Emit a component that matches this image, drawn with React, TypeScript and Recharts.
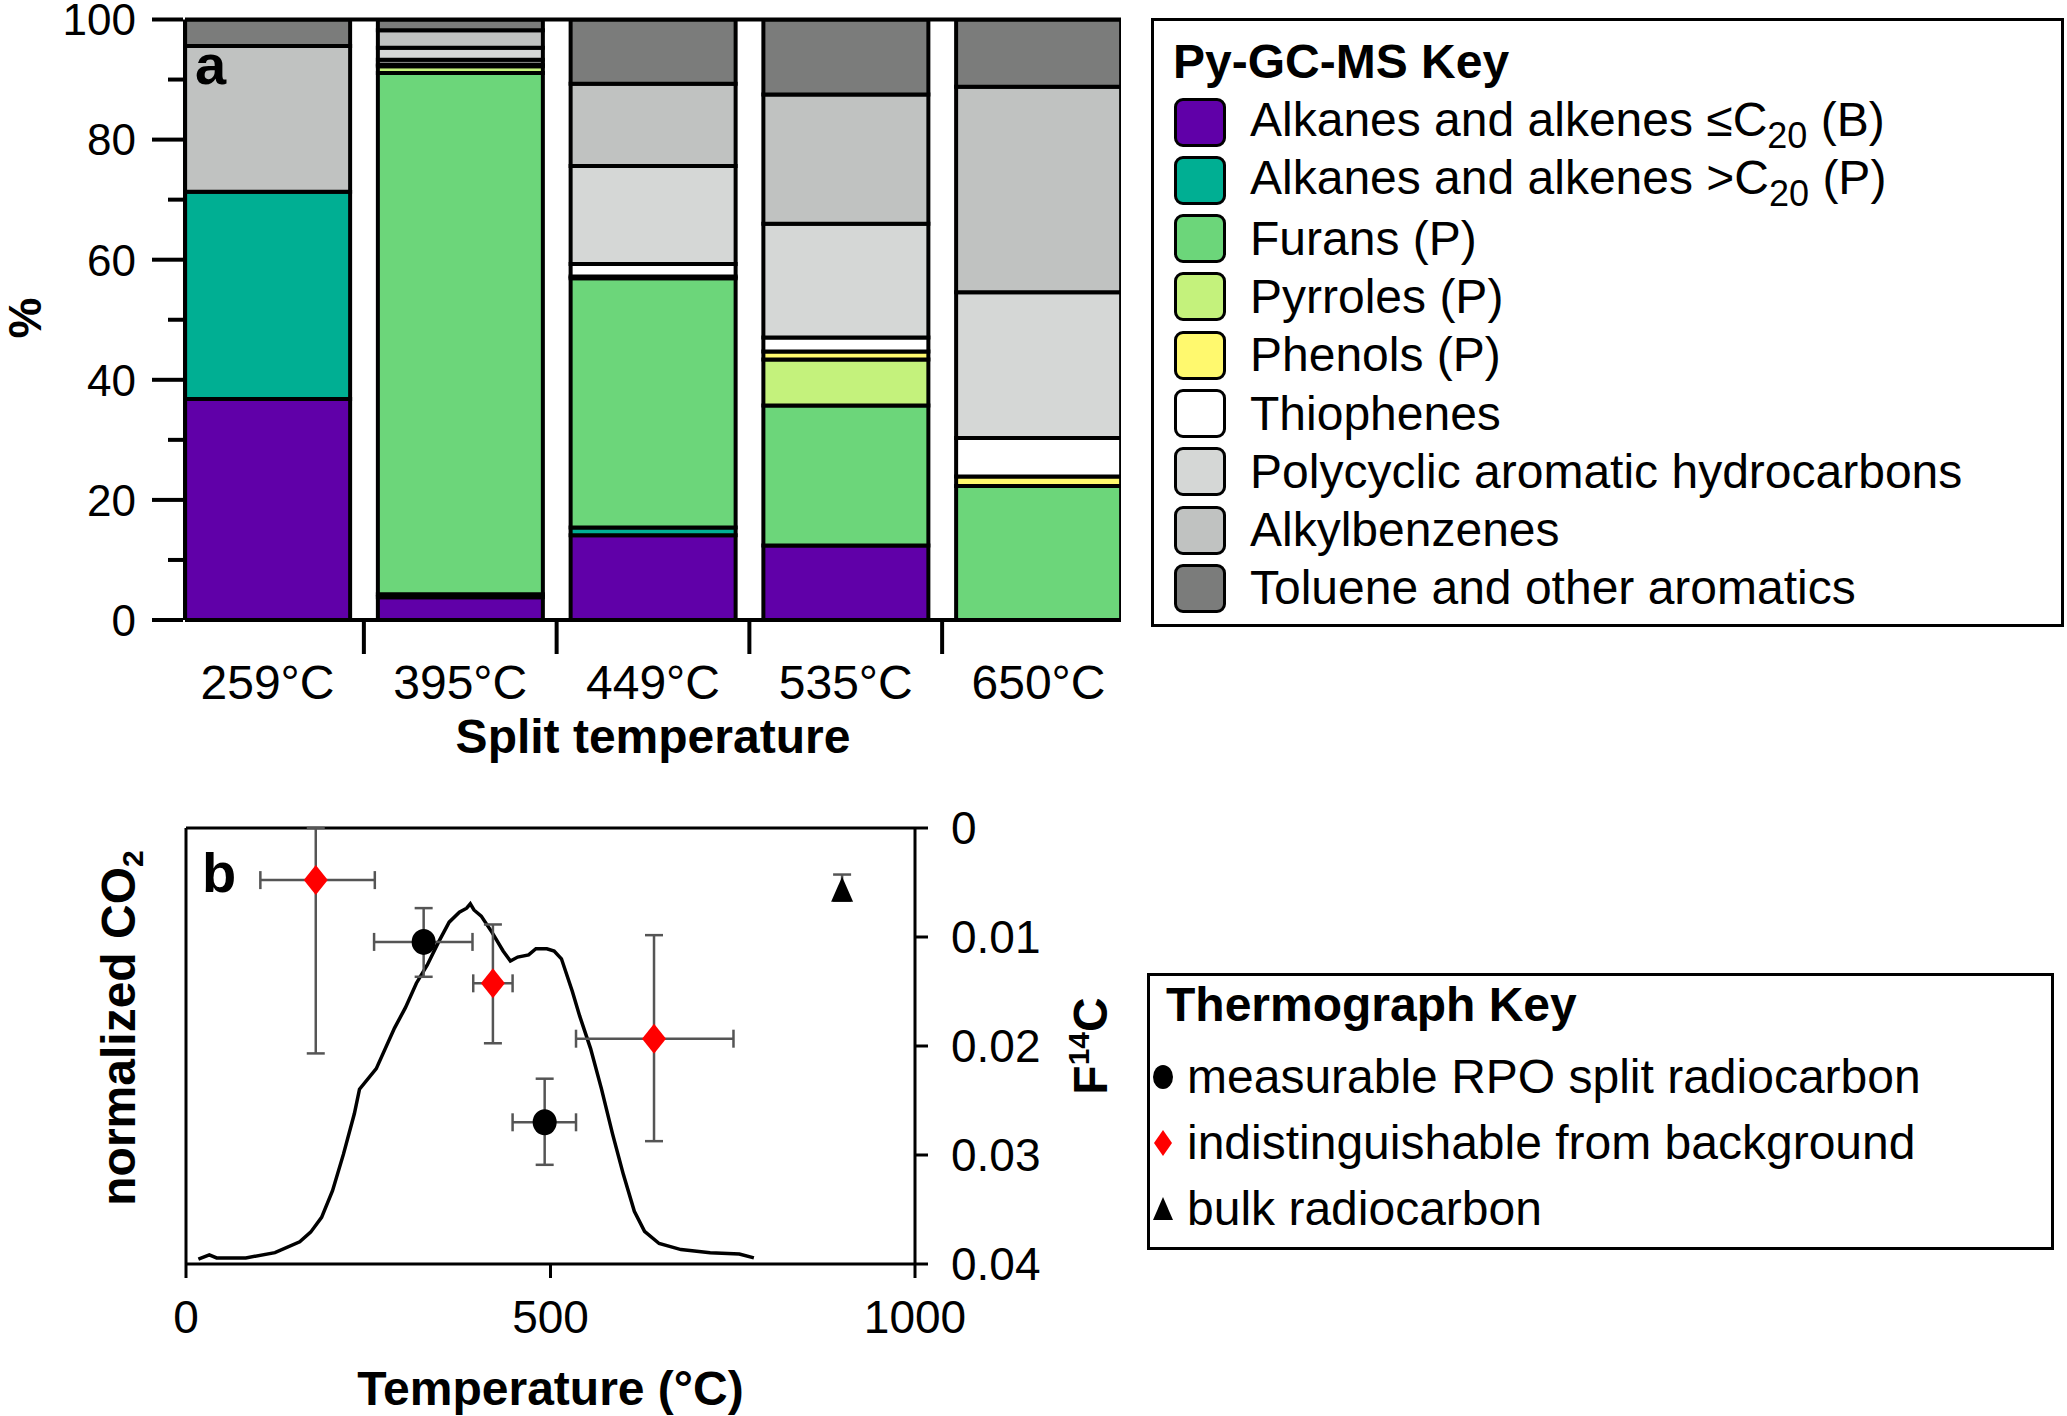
import React from "react";
import {
  BarChart, Bar, XAxis, YAxis, ReferenceLine, ComposedChart, Line, Scatter, ErrorBar,
} from "recharts";

const FONT = '"Liberation Sans", Arial, Helvetica, sans-serif';

// ---- panel a: Py-GC-MS composition (%), stacked bottom -> top
const splitTemps = ["259°C", "395°C", "449°C", "535°C", "650°C"];
const alkanesLow = [36.8, 3.8, 14.1, 12.4, 0];
const alkanesHigh = [34.5, 0.5, 1.3, 0, 0];
const furans = [0, 86.8, 41.5, 23.3, 22.3];
const pyrroles = [0, 1.1, 0, 7.7, 0];
const phenols = [0, 0.3, 0.3, 1.3, 1.6];
const thiophenes = [0, 0.8, 2.1, 2.35, 6.4];
const pahs = [0, 2.0, 16.3, 18.95, 24.3];
const alkylbenzenes = [24.3, 2.9, 13.7, 21.5, 34.2];
const toluene = [4.4, 1.8, 10.7, 12.5, 11.2];

const pySeries = [
  { key: "alkLow", name: "Alkanes and alkenes ≤C", sub: "20", tail: " (B)", color: "#6000A8", values: alkanesLow },
  { key: "alkHigh", name: "Alkanes and alkenes >C", sub: "20", tail: " (P)", color: "#00AF93", values: alkanesHigh },
  { key: "furans", name: "Furans (P)", color: "#6CD67A", values: furans },
  { key: "pyrroles", name: "Pyrroles (P)", color: "#C4F27C", values: pyrroles },
  { key: "phenols", name: "Phenols (P)", color: "#FFF96E", values: phenols },
  { key: "thiophenes", name: "Thiophenes", color: "#FFFFFF", values: thiophenes },
  { key: "pah", name: "Polycyclic aromatic hydrocarbons", color: "#D5D7D6", values: pahs },
  { key: "alkyl", name: "Alkylbenzenes", color: "#C0C2C1", values: alkylbenzenes },
  { key: "toluene", name: "Toluene and other aromatics", color: "#7B7C7B", values: toluene },
];

const pyRows = splitTemps.map((label, i) => {
  const row: Record<string, number | string> = { idx: i, label };
  pySeries.forEach((s) => { row[s.key] = s.values[i]; });
  return row;
});

const pctTicks = [0, 10, 20, 30, 40, 50, 60, 70, 80, 90, 100];
const catTicks = [0, 0.5, 1, 1.5, 2, 2.5, 3, 3.5, 4];

// ---- panel b: thermograph + radiocarbon
const thermoTemp = [17, 32, 42, 82, 122, 156, 171, 186, 201, 216, 231, 238, 261, 286, 301, 316, 331, 346, 361, 375, 385, 390, 395, 405, 420, 435, 445, 455, 470, 480, 495, 505, 515, 530, 540, 555, 570, 585, 600, 615, 629, 649, 679, 719, 759, 779];
const thermoCO2 = [0.011, 0.021, 0.014, 0.014, 0.026, 0.051, 0.073, 0.107, 0.168, 0.252, 0.345, 0.401, 0.448, 0.541, 0.588, 0.644, 0.686, 0.737, 0.784, 0.807, 0.816, 0.826, 0.812, 0.798, 0.76, 0.718, 0.695, 0.704, 0.709, 0.723, 0.723, 0.718, 0.7, 0.625, 0.569, 0.494, 0.401, 0.299, 0.205, 0.121, 0.075, 0.047, 0.033, 0.026, 0.023, 0.014];
const thermo = thermoTemp.map((t, i) => ({ t, co2: thermoCO2[i] }));

const measurableTemp = [326, 492];
const measurableF = [0.01045, 0.027];
const measurableTempErr = [[68, 67], [44, 43]];
const measurableFErr = [[0.0031, 0.0032], [0.004, 0.0039]];

const backgroundTemp = [178, 421, 642];
const backgroundF = [0.00478, 0.01425, 0.01933];
const backgroundTempErr = [[76, 81], [27, 27], [107, 109]];
const backgroundFErr = [[0.00478, 0.0159], [0.0054, 0.0055], [0.0095, 0.0094]];

const bulkTemp = [900];
const bulkF = [0.00567];
const bulkFErr = [[0.0014, 0.001]];

const measurable = measurableTemp.map((t, i) => ({ t, f: measurableF[i], tErr: measurableTempErr[i], fErr: measurableFErr[i] }));
const background = backgroundTemp.map((t, i) => ({ t, f: backgroundF[i], tErr: backgroundTempErr[i], fErr: backgroundFErr[i] }));
const bulk = bulkTemp.map((t, i) => ({ t, f: bulkF[i], fErr: bulkFErr[i] }));

const YTick = (props: any) => {
  const { x, y, payload } = props;
  const v = payload.value;
  const major = v % 20 === 0;
  return (
    <g>
      <line x1={x - (major ? 31 : 15)} x2={x} y1={y} y2={y} stroke="#000" strokeWidth={4} />
      {major && (
        <text x={x - 47} y={y} dy="0.36em" textAnchor="end" fontSize={44} fontFamily={FONT} fill="#000">{v}</text>
      )}
    </g>
  );
};

const XTick = (props: any) => {
  const { x, y, payload } = props;
  const v = payload.value;
  if (!Number.isInteger(v)) {
    return <line x1={x} x2={x} y1={y} y2={y + 32} stroke="#000" strokeWidth={4} />;
  }
  return (
    <text x={x} y={y + 43} dy="0.71em" textAnchor="middle" fontSize={48} fontFamily={FONT} fill="#000">{splitTemps[v]}</text>
  );
};

const Circle = (p: any) => <ellipse cx={p.cx} cy={p.cy} rx={12} ry={13} fill="#000" />;
const Diamond = (p: any) => (
  <polygon points={`${p.cx},${p.cy - 15} ${p.cx + 12},${p.cy} ${p.cx},${p.cy + 15} ${p.cx - 12},${p.cy}`} fill="#FF0000" />
);
const Triangle = (p: any) => (
  <polygon points={`${p.cx},${p.cy - 13} ${p.cx + 11},${p.cy + 12} ${p.cx - 11},${p.cy + 12}`} fill="#000" />
);

const errStyle = { stroke: "#555", strokeWidth: 2.5, width: 9, isAnimationActive: false };
const axisStroke = { stroke: "#000", strokeWidth: 3 };

export default function App() {
  return (
    <div style={{ position: "relative", width: 2067, height: 1416, background: "#fff", fontFamily: FONT, color: "#000" }}>
      <style>{`body{margin:0;background:#fff}`}</style>

      <div style={{ position: "absolute", left: 0, top: 0 }}>
        <BarChart width={2067} height={780} data={pyRows} barSize={165}
          margin={{ top: 19.5, right: 946, bottom: 0, left: 35 }}>
          <XAxis dataKey="idx" type="number" domain={[-0.428, 4.428]} allowDataOverflow
            ticks={catTicks} interval={0} tick={<XTick />} tickLine={false} tickSize={0}
            axisLine={{ stroke: "#000", strokeWidth: 4 }} height={160}
            label={(p: any) => (
              <text x={p.viewBox.x + p.viewBox.width / 2} y={p.viewBox.y + 133} textAnchor="middle"
                fontSize={48} fontWeight="bold" fontFamily={FONT} fill="#000">Split temperature</text>
            )} />
          <YAxis type="number" domain={[0, 100]} allowDataOverflow ticks={pctTicks} interval={0}
            tick={<YTick />} tickLine={false} tickSize={0} width={150}
            axisLine={{ stroke: "#000", strokeWidth: 4 }}
            label={() => (
              <text x={24} y={318} transform="rotate(-90, 24, 318)" textAnchor="middle" dy="0.36em"
                fontSize={46} fontWeight="bold" fontFamily={FONT} fill="#000">%</text>
            )} />
          <ReferenceLine y={100} stroke="#000" strokeWidth={4} />
          {pySeries.map((s) => (
            <Bar key={s.key} dataKey={s.key} stackId="py" fill={s.color} stroke="#000" strokeWidth={4}
              isAnimationActive={false} />
          ))}
        </BarChart>
      </div>

      <div style={{ position: "absolute", left: 0, top: 780 }}>
        <ComposedChart width={2067} height={636} margin={{ top: 48, right: 1002, bottom: 0, left: 166 }}>
          <XAxis dataKey="t" type="number" domain={[0, 1000]} allowDataOverflow ticks={[0, 500, 1000]}
            interval={0} tickSize={14} tickMargin={22}
            tick={{ fontSize: 46, fill: "#000", fontFamily: FONT }}
            axisLine={axisStroke} tickLine={axisStroke} height={152}
            label={(p: any) => (
              <text x={p.viewBox.x + p.viewBox.width / 2} y={p.viewBox.y + 141} textAnchor="middle"
                fontSize={48} fontWeight="bold" fontFamily={FONT} fill="#000">Temperature (°C)</text>
            )} />
          <YAxis yAxisId="co2" type="number" domain={[0, 1]} allowDataOverflow ticks={[0, 0.25, 0.5, 0.75, 1]}
            interval={0} tick={false} tickSize={14} width={20} axisLine={axisStroke} tickLine={axisStroke}
            label={(p: any) => {
              const cx = 118;
              const cy = p.viewBox.y + p.viewBox.height / 2 - 18;
              return (
                <text x={cx} y={cy} transform={`rotate(-90, ${cx}, ${cy})`} textAnchor="middle" dy="0.36em"
                  fontSize={48} fontWeight="bold" fontFamily={FONT} fill="#000">
                  normalized CO<tspan fontSize={30} dy={8}>2</tspan>
                </text>
              );
            }} />
          <YAxis yAxisId="f" dataKey="f" type="number" orientation="right" reversed domain={[0, 0.04]}
            allowDataOverflow ticks={[0, 0.01, 0.02, 0.03, 0.04]} interval={0} tickSize={13} tickMargin={23}
            width={150} tickFormatter={(v: number) => (v === 0 ? "0" : v.toFixed(2))}
            tick={{ fontSize: 46, fill: "#000", fontFamily: FONT }}
            axisLine={axisStroke} tickLine={axisStroke}
            label={(p: any) => {
              const cx = 1090;
              const cy = p.viewBox.y + p.viewBox.height / 2;
              return (
                <text x={cx} y={cy} transform={`rotate(-90, ${cx}, ${cy})`} textAnchor="middle" dy="0.36em"
                  fontSize={48} fontWeight="bold" fontFamily={FONT} fill="#000">
                  F<tspan fontSize={30} dy={-18}>14</tspan><tspan dy={18}>C</tspan>
                </text>
              );
            }} />
          <ReferenceLine y={0} yAxisId="f" stroke="#000" strokeWidth={3} />
          <Line data={thermo} dataKey="co2" yAxisId="co2" type="linear" stroke="#000" strokeWidth={3.5}
            dot={false} activeDot={false} isAnimationActive={false} />
          <Scatter data={measurable} dataKey="f" yAxisId="f" shape={Circle} isAnimationActive={false}>
            <ErrorBar dataKey="tErr" direction="x" {...errStyle} />
            <ErrorBar dataKey="fErr" direction="y" {...errStyle} />
          </Scatter>
          <Scatter data={background} dataKey="f" yAxisId="f" shape={Diamond} isAnimationActive={false}>
            <ErrorBar dataKey="tErr" direction="x" {...errStyle} />
            <ErrorBar dataKey="fErr" direction="y" {...errStyle} />
          </Scatter>
          <Scatter data={bulk} dataKey="f" yAxisId="f" shape={Triangle} isAnimationActive={false}>
            <ErrorBar dataKey="fErr" direction="y" {...errStyle} />
          </Scatter>
        </ComposedChart>
      </div>

      {/* Py-GC-MS key */}
      <div style={{ position: "absolute", left: 1151, top: 18, width: 913, height: 609, border: "3px solid #000", boxSizing: "border-box" }}>
        <div style={{ position: "absolute", left: 19, top: 12, fontSize: 48, lineHeight: "58px", fontWeight: "bold" }}>Py-GC-MS Key</div>
        {pySeries.map((s, i) => (
          <div key={s.key} style={{ position: "absolute", left: 20, top: 72 + i * 58.3, height: 58, display: "flex", alignItems: "center" }}>
            <div style={{ width: 52, height: 49, background: s.color, border: "3px solid #000", borderRadius: 9, boxSizing: "border-box" }} />
            <div style={{ marginLeft: 24, fontSize: 48, lineHeight: "58px", whiteSpace: "nowrap" }}>
              {s.name}
              {s.sub && <span style={{ fontSize: 36, position: "relative", top: 12 }}>{s.sub}</span>}
              {s.tail}
            </div>
          </div>
        ))}
      </div>

      {/* Thermograph key */}
      <div style={{ position: "absolute", left: 1147, top: 973, width: 907, height: 277, border: "3px solid #000", boxSizing: "border-box" }}>
        <div style={{ position: "absolute", left: 16, top: 0, fontSize: 48, lineHeight: "58px", fontWeight: "bold" }}>Thermograph Key</div>
        {[
          { label: "measurable RPO split radiocarbon", mark: <ellipse cx={13} cy={16} rx={10} ry={12} fill="#000" /> },
          { label: "indistinguishable from background", mark: <polygon points="13,3 22,16 13,29 4,16" fill="#FF0000" /> },
          { label: "bulk radiocarbon", mark: <polygon points="13,4 23,27 3,27" fill="#000" /> },
        ].map((it, i) => (
          <div key={it.label} style={{ position: "absolute", left: 0, top: 72 + i * 66, height: 58, display: "flex", alignItems: "center" }}>
            <svg width={26} height={32}>{it.mark}</svg>
            <div style={{ marginLeft: 11, fontSize: 48, lineHeight: "58px", whiteSpace: "nowrap" }}>{it.label}</div>
          </div>
        ))}
      </div>

      <div style={{ position: "absolute", left: 195, top: 37, fontSize: 56, lineHeight: "56px", fontWeight: "bold" }}>a</div>
      <div style={{ position: "absolute", left: 202, top: 845, fontSize: 56, lineHeight: "56px", fontWeight: "bold" }}>b</div>
    </div>
  );
}
